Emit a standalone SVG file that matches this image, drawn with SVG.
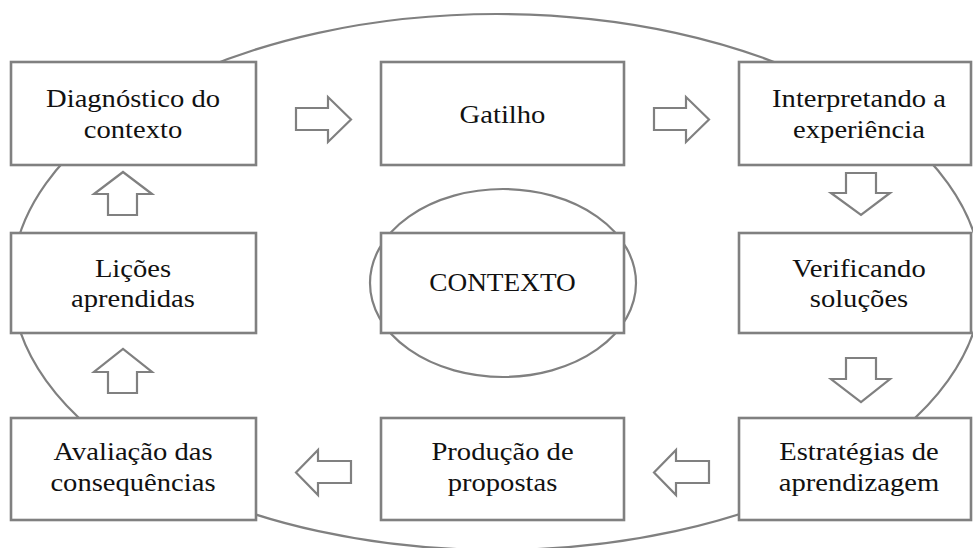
<svg xmlns="http://www.w3.org/2000/svg" width="973" height="548" viewBox="0 0 973 548">
<style>
.bg{fill:#fff}
.ell{fill:none;stroke:#808080;stroke-width:2.2}
.box{fill:#fff;stroke:#808080;stroke-width:2.6}
.arr{fill:#fff;stroke:#808080;stroke-width:2.2;stroke-linejoin:miter}
.t{font-family:'Liberation Serif','Times New Roman','DejaVu Serif',serif;font-size:26px;fill:#111;text-anchor:middle}
</style>
<rect class="bg" x="0" y="0" width="973" height="548"/>
<g id="background">
<ellipse class="ell" cx="497" cy="282" rx="485" ry="268"/>
<ellipse class="ell" cx="503" cy="283" rx="133" ry="94"/>
</g>
<g id="node-diagnostico">
<rect class="box" x="11" y="62" width="245" height="103"/>
<text class="t" font-family="Liberation Serif, serif" transform="translate(133,107) scale(1.1,1)">Diagnóstico do</text>
<text class="t" font-family="Liberation Serif, serif" transform="translate(133,138) scale(1.1,1)">contexto</text>
</g>
<g id="node-gatilho">
<rect class="box" x="381" y="62" width="243" height="103"/>
<text class="t" font-family="Liberation Serif, serif" transform="translate(502.5,123) scale(1.1,1)">Gatilho</text>
</g>
<g id="node-interpretando">
<rect class="box" x="739" y="62" width="232" height="103"/>
<text class="t" font-family="Liberation Serif, serif" transform="translate(859,107) scale(1.1,1)">Interpretando a</text>
<text class="t" font-family="Liberation Serif, serif" transform="translate(859,138) scale(1.1,1)">experiência</text>
</g>
<g id="node-licoes">
<rect class="box" x="11" y="233" width="245" height="100"/>
<text class="t" font-family="Liberation Serif, serif" transform="translate(133,277) scale(1.1,1)">Lições</text>
<text class="t" font-family="Liberation Serif, serif" transform="translate(133,307) scale(1.1,1)">aprendidas</text>
</g>
<g id="node-contexto">
<rect class="box" x="381" y="233" width="243" height="100"/>
<text class="t" font-family="Liberation Serif, serif" transform="translate(502.5,291) scale(1.05,1)">CONTEXTO</text>
</g>
<g id="node-verificando">
<rect class="box" x="739" y="233" width="232" height="100"/>
<text class="t" font-family="Liberation Serif, serif" transform="translate(859,277) scale(1.1,1)">Verificando</text>
<text class="t" font-family="Liberation Serif, serif" transform="translate(859,307) scale(1.1,1)">soluções</text>
</g>
<g id="node-avaliacao">
<rect class="box" x="11" y="418" width="245" height="102"/>
<text class="t" font-family="Liberation Serif, serif" transform="translate(133,460) scale(1.1,1)">Avaliação das</text>
<text class="t" font-family="Liberation Serif, serif" transform="translate(133,491) scale(1.1,1)">consequências</text>
</g>
<g id="node-producao">
<rect class="box" x="381" y="418" width="243" height="102"/>
<text class="t" font-family="Liberation Serif, serif" transform="translate(502.5,460) scale(1.1,1)">Produção de</text>
<text class="t" font-family="Liberation Serif, serif" transform="translate(502.5,491) scale(1.1,1)">propostas</text>
</g>
<g id="node-estrategias">
<rect class="box" x="739" y="418" width="232" height="102"/>
<text class="t" font-family="Liberation Serif, serif" transform="translate(859,460) scale(1.1,1)">Estratégias de</text>
<text class="t" font-family="Liberation Serif, serif" transform="translate(859,491) scale(1.1,1)">aprendizagem</text>
</g>
<g id="connectors">
<polygon class="arr" points="296,108 328,108 328,97 351,119.5 328,142 328,130 296,130"/>
<polygon class="arr" points="654,108 686,108 686,97 709,119.5 686,142 686,130 654,130"/>
<polygon class="arr" points="846,173 876,173 876,193 890,193 861,215 831,193 846,193"/>
<polygon class="arr" points="846,358 876,358 876,379 890,379 861,402 831,379 846,379"/>
<polygon class="arr" points="709,461 676,461 676,450 654,472.5 676,495 676,483 709,483"/>
<polygon class="arr" points="351,461 318,461 318,450 296,472.5 318,495 318,483 351,483"/>
<polygon class="arr" points="108,393 137,393 137,372 152,372 123,349 94,372 108,372"/>
<polygon class="arr" points="108,215 137,215 137,194 152,194 123,172 94,194 108,194"/>
</g>
</svg>
